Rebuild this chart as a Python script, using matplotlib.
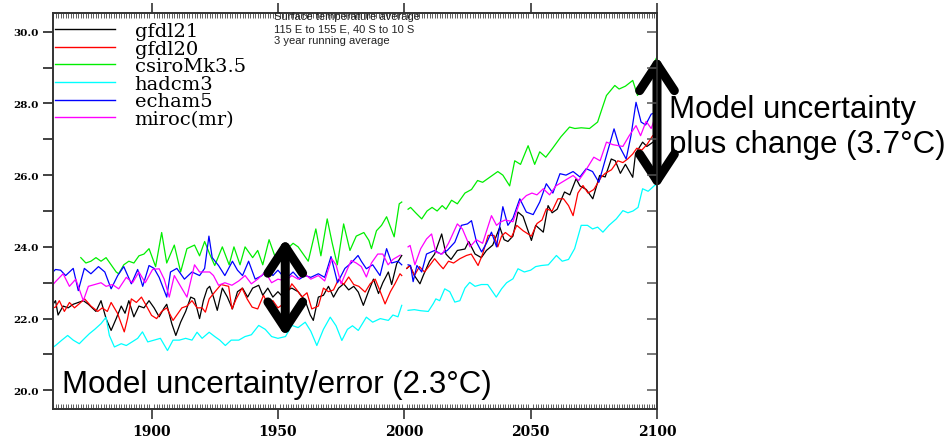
import numpy as np
import matplotlib
matplotlib.use("Agg")
import matplotlib.pyplot as plt
from matplotlib.ticker import MultipleLocator, FormatStrFormatter
from matplotlib.lines import Line2D

# ---------------- data ----------------
model_names = ["gfdl21", "gfdl20", "csiroMk3.5", "hadcm3", "echam5", "miroc(mr)"]
model_colors = ["#000000", "#ff0000", "#00ee00", "#00ffff", "#0000ff", "#ff00ff"]

gfdl21_hist_years = [1861, 1862, 1863, 1865, 1867, 1869, 1871, 1873, 1875, 1878, 1880, 1882, 1884, 1886, 1888, 1889.5,
                     1891, 1893, 1895, 1897, 1899, 1901, 1903, 1905, 1906, 1908, 1909.6, 1911.5, 1913.5, 1915.5, 1917,
                     1919, 1920.5, 1922, 1923, 1924.5, 1926, 1928, 1930, 1932, 1934, 1936, 1938, 1940, 1942.4, 1944,
                     1946, 1948, 1950, 1952, 1954, 1955.5, 1958, 1960.8, 1962.8, 1964, 1966, 1968, 1970, 1972, 1974,
                     1976, 1978, 1980, 1981.8, 1983.8, 1985.8, 1987.8, 1989.8, 1991.5, 1993.7, 1995, 1997, 1999]
gfdl21_hist = [22.4, 22.5, 22.1, 22.35, 22.3, 22.4, 22.45, 22.5, 22.4, 22.2, 22.5, 22.0, 21.67, 22.0, 22.35, 22.15,
               22.5, 22.05, 22.35, 22.3, 22.5, 22.3, 22.05, 22.3, 22.4, 21.86, 21.53, 21.9, 22.2, 22.6, 22.55,
               22.0, 22.5, 22.83, 22.9, 22.6, 22.23, 22.85, 22.6, 22.27, 22.75, 22.85, 22.6, 22.85, 22.93, 22.65,
               22.85, 22.6, 22.75, 22.6, 22.8, 22.85, 22.75, 22.5, 22.1, 21.95, 22.6, 22.65, 22.9, 22.6, 22.85,
               22.97, 22.8, 22.9, 22.74, 22.37, 22.75, 23.1, 22.7, 23.0, 23.3, 22.95, 23.53, 23.76]
gfdl21_scen_years = [2001, 2002.2, 2004, 2006.2, 2007.5, 2010, 2012, 2014.8, 2016.5, 2018.5, 2021, 2024, 2025.5, 2028,
                     2030.5, 2032.5, 2035, 2037.8, 2039.5, 2041, 2043, 2045, 2047, 2050.3, 2052, 2055, 2056.9, 2058.5,
                     2060.5, 2063.4, 2065.5, 2068, 2069.5, 2072, 2074.6, 2077.3, 2079.5, 2081.9, 2083.5, 2085.5,
                     2087.5, 2090.4, 2091.5, 2094.3, 2096, 2099, 2100]
gfdl21_scen = [23.4, 23.48, 23.2, 22.97, 23.2, 23.6, 23.8, 24.36, 23.8, 23.65, 23.9, 23.94, 24.15, 23.8,
               23.7, 23.9, 24.05, 24.55, 24.2, 24.15, 24.3, 24.97, 24.85, 24.18, 24.6, 24.41, 25.15, 24.95,
               25.05, 25.53, 25.45, 25.9, 25.7, 25.6, 25.34, 25.99, 25.95, 26.45, 26.4, 26.05,
               26.3, 25.94, 26.6, 26.92, 26.8, 26.95, 26.9]

gfdl20_hist_years = [1861, 1862, 1863.5, 1865.5, 1867.5, 1869.5, 1871.5, 1873.5, 1876, 1878.7, 1880.5, 1882.5, 1884,
                     1886.5, 1888, 1889.2, 1890.5, 1892, 1894, 1896, 1898, 1900, 1902, 1904, 1906, 1908.5, 1910.5,
                     1912, 1914, 1916, 1918, 1920, 1921.3, 1922.8, 1925, 1927.5, 1930.5, 1931.8, 1933.5, 1935.8,
                     1937.8, 1939.8, 1942, 1944.3, 1946, 1948, 1950, 1952, 1954, 1955.5, 1957.5, 1959.5, 1961.5,
                     1963.4, 1966, 1968, 1970, 1972, 1974, 1976, 1978, 1980, 1982, 1984.5, 1986.5, 1988.5, 1990.4,
                     1992.4, 1994.5, 1996.3, 1998.3, 1999]
gfdl20_hist = [22.3, 22.32, 22.5, 22.2, 22.45, 22.3, 22.42, 22.55, 22.35, 22.2, 22.3, 22.2, 22.45,
               22.15, 21.86, 21.63, 22.0, 22.55, 22.45, 22.6, 22.35, 22.09, 22.0, 22.2, 22.3, 21.95, 22.15,
               22.3, 22.35, 22.5, 22.3, 22.3, 22.18, 22.55, 22.74, 22.95, 22.9, 22.27, 22.55, 22.85,
               22.55, 22.32, 22.27, 22.65, 22.4, 22.5, 22.3, 22.4, 22.75, 22.97, 22.8, 22.6, 22.72,
               22.27, 22.35, 22.85, 22.75, 22.8, 23.1, 22.95, 23.16, 22.95, 22.9, 22.74, 22.97, 23.1, 22.77,
               22.41, 22.75, 22.97, 23.25, 23.2]
gfdl20_scen_years = [2001, 2002.2, 2004, 2006, 2008, 2010, 2012, 2014, 2015.4, 2017.5, 2019.5, 2022, 2024.6, 2026.5,
                     2029.2, 2031, 2033.2, 2035.5, 2037, 2038.5, 2040, 2042.4, 2044.5, 2047, 2050.3, 2052.5, 2054.5,
                     2056.2, 2058.5, 2060.8, 2063, 2065, 2066.8, 2068.7, 2070.7, 2072.7, 2075, 2077.9, 2079.5, 2082,
                     2084.5, 2086.5, 2088.4, 2090.4, 2092, 2094, 2096, 2098.3, 2100]
gfdl20_scen = [23.4, 23.48, 23.2, 23.45, 23.3, 23.48, 23.67, 23.5, 23.39, 23.6, 23.55, 23.67, 23.76, 23.8,
               23.48, 23.8, 24.32, 24.32, 24.0, 24.3, 24.4, 24.27, 24.6, 24.45, 24.3, 24.65, 24.75,
               25.06, 25.0, 25.34, 25.34, 25.15, 24.87, 25.5, 25.71, 25.5, 25.6, 25.94, 26.05, 26.15,
               26.4, 26.35, 26.45, 26.59, 26.75, 26.7, 26.85, 27.1, 27.15]

csiro_hist_years = [1872, 1874, 1876, 1878, 1880, 1882, 1884, 1886, 1887, 1889, 1891, 1893, 1895, 1897, 1899, 1901.6,
                    1904, 1906, 1909, 1911.5, 1914, 1917, 1919, 1921, 1923, 1925, 1928, 1930.7, 1932.6, 1935, 1937,
                    1940, 1942, 1944, 1946.5, 1949, 1951, 1953, 1956, 1958, 1960, 1962, 1965, 1967, 1969.5, 1971.5,
                    1973.5, 1976, 1978.5, 1981, 1984, 1986, 1987, 1989, 1991, 1993, 1996, 1998, 1999]
csiro_hist = [23.7, 23.55, 23.6, 23.7, 23.6, 23.7, 23.5, 23.3, 23.25, 23.5, 23.6, 23.55, 23.75, 23.8, 23.95, 23.45,
              24.4, 23.55, 24.05, 23.3, 23.95, 24.05, 23.75, 24.15, 23.8, 23.48, 24.0, 23.5, 24.0, 23.5, 24.0,
              23.7, 23.9, 23.5, 24.2, 23.7, 23.6, 23.9, 24.1, 24.0, 23.8, 23.6, 24.5, 23.75, 24.78, 24.1,
              23.5, 24.64, 23.9, 24.3, 24.4, 24.18, 23.95, 24.45, 24.6, 24.84, 24.28, 25.2, 25.25]
csiro_scen_years = [2001.5, 2002.5, 2004.5, 2006.9, 2009, 2011, 2013, 2015, 2016.5, 2018.7, 2021, 2024, 2026.6, 2029,
                    2031, 2033, 2035, 2037, 2039, 2041.7, 2043.7, 2046, 2049, 2051.6, 2053.6, 2056, 2058.7, 2062,
                    2065.4, 2067.5, 2070, 2073.3, 2076.5, 2078, 2080, 2083.3, 2085, 2087.5, 2090.4, 2092.3, 2094.5,
                    2096.5, 2098, 2100]
csiro_scen = [25.05, 25.1, 24.95, 24.78, 25.0, 25.1, 25.0, 25.15, 25.05, 25.3, 25.2, 25.5, 25.6, 25.85,
              25.8, 25.9, 26.0, 26.1, 26.0, 25.7, 26.4, 26.3, 26.82, 26.3, 26.65, 26.5, 26.75, 27.07,
              27.34, 27.3, 27.32, 27.3, 27.48, 27.8, 28.22, 28.5, 28.4, 28.48, 28.64, 28.22, 28.5,
              28.75, 29.0, 29.3]

hadcm3_hist_years = [1861, 1862, 1864.5, 1866.8, 1869, 1871.4, 1873.5, 1875.4, 1877.5, 1880, 1882, 1883.3, 1885.3,
                     1888, 1890, 1892.5, 1894.5, 1896.4, 1898.5, 1901, 1903.5, 1906.3, 1908.5, 1911, 1913.5, 1916,
                     1918, 1920, 1922.8, 1925, 1927, 1929.2, 1931.5, 1934.5, 1937, 1939.5, 1942.4, 1945, 1947.5,
                     1950, 1953, 1955.5, 1958, 1960.8, 1963, 1965.4, 1968, 1970.7, 1973, 1975.3, 1977.5, 1979.5,
                     1981.8, 1985, 1987.5, 1990.5, 1993.7, 1995.5, 1997.5, 1999]
hadcm3_hist = [21.2, 21.25, 21.4, 21.53, 21.4, 21.3, 21.45, 21.58, 21.7, 21.86, 22.04, 21.53, 21.21,
               21.3, 21.25, 21.36, 21.45, 21.63, 21.35, 21.4, 21.45, 21.11, 21.4, 21.4, 21.45, 21.4,
               21.62, 21.45, 21.62, 21.5, 21.4, 21.25, 21.4, 21.4, 21.5, 21.55, 21.81, 21.7, 21.5,
               21.45, 21.5, 21.81, 21.75, 21.9, 21.65, 21.25, 21.7, 22.04, 21.8, 21.39, 21.7, 21.8,
               21.67, 22.04, 21.9, 22.0, 21.95, 22.1, 22.05, 22.37]
hadcm3_scen_years = [2001.5, 2004, 2006.5, 2009.5, 2011.5, 2012.5, 2014, 2016, 2018, 2020, 2022, 2024, 2025.9,
                     2028, 2030.5, 2033, 2036.4, 2038.5, 2040.5, 2043, 2045, 2047.5, 2050, 2052, 2054.2, 2057,
                     2060.2, 2062.5, 2065, 2067.4, 2070, 2072.5, 2074.5, 2076.5, 2078.6, 2081, 2083.9, 2086.5,
                     2088.5, 2090.5, 2092.5, 2094.3, 2096.5, 2099, 2100]
hadcm3_scen = [22.23, 22.25, 22.22, 22.2, 22.42, 22.55, 22.5, 22.83, 22.75, 22.46, 22.5, 22.85, 23.01,
               22.9, 22.95, 22.95, 22.6, 22.83, 23.0, 23.11, 23.39, 23.3, 23.35, 23.45, 23.48, 23.5,
               23.76, 23.6, 23.65, 23.95, 24.6, 24.6, 24.5, 24.55, 24.41, 24.6, 24.78, 25.01,
               24.95, 25.0, 25.1, 25.62, 25.55, 25.71, 25.75]

echam5_hist_years = [1861, 1862, 1864, 1866, 1869, 1871, 1873.4, 1876, 1879, 1881.5, 1884, 1886.6, 1889, 1892,
                     1894.5, 1896.5, 1899, 1901, 1903, 1906, 1907.5, 1910, 1913, 1916, 1919, 1921, 1922.7, 1924,
                     1926.5, 1929, 1932, 1934, 1936, 1938.4, 1941, 1943.7, 1946, 1948, 1950, 1953, 1956, 1958.5,
                     1960.8, 1963, 1966, 1968.5, 1971, 1973.6, 1976.5, 1979, 1981.7, 1983, 1985, 1987.5, 1990.4,
                     1993, 1995, 1997.5, 1999]
echam5_hist = [23.3, 23.37, 23.35, 23.2, 23.4, 22.78, 23.4, 23.25, 23.45, 23.3, 22.83, 23.2, 23.45, 22.97,
               23.37, 22.9, 23.48, 23.4, 23.15, 22.6, 23.3, 23.4, 23.1, 23.3, 23.2, 23.4, 24.3, 23.7,
               23.48, 23.2, 23.6, 23.35, 23.2, 23.6, 23.1, 23.2, 23.4, 23.2, 23.35, 23.1, 23.3, 23.1,
               23.2, 23.15, 23.25, 23.15, 23.73, 23.0, 23.4, 23.55, 23.76, 23.6, 23.39, 23.5, 23.2,
               23.95, 23.55, 23.6, 23.5]
echam5_scen_years = [2001.5, 2002.5, 2003.5, 2005, 2006.9, 2008.8, 2012, 2014.5, 2017, 2020, 2022.6, 2025, 2026.6,
                     2028.6, 2030.6, 2032.5, 2034.5, 2036.5, 2039, 2041, 2043, 2045.7, 2048.3, 2051, 2053.6, 2056.2,
                     2058.8, 2061.6, 2064, 2066.8, 2069.5, 2072, 2074.5, 2077, 2080, 2083, 2085, 2087.8, 2089.7,
                     2091.7, 2093.7, 2095.5, 2097.7, 2100]
echam5_scen = [23.5, 23.48, 23.03, 23.48, 23.3, 23.8, 23.9, 23.8, 23.9, 24.13, 24.6, 24.64, 24.73,
               24.13, 23.86, 24.1, 24.41, 24.0, 25.12, 24.6, 24.8, 25.34, 24.97, 24.9, 25.25, 25.76,
               25.5, 26.04, 26.0, 26.1, 25.95, 26.18, 26.1, 25.8, 26.55, 27.29, 26.82, 26.45, 27.1,
               28.03, 27.48, 27.4, 27.7, 27.76]

miroc_hist_years = [1861, 1862, 1865, 1867.5, 1870, 1873, 1875, 1877.5, 1880, 1882, 1884.5, 1887, 1890, 1892.5,
                    1895, 1897.5, 1900.4, 1903, 1905, 1907, 1909, 1911.5, 1914, 1916, 1917, 1919, 1921, 1923,
                    1924.5, 1926.5, 1929, 1931.8, 1934.5, 1937, 1939.5, 1942, 1945, 1947.5, 1950, 1953, 1955.5,
                    1958, 1960.5, 1963, 1966, 1968.5, 1971.3, 1973, 1975, 1977, 1979, 1981, 1983, 1985, 1987,
                    1989.5, 1991.5, 1993.6, 1995.5, 1998.4]
miroc_hist = [22.95, 23.03, 23.25, 22.9, 23.1, 22.5, 22.9, 22.95, 23.0, 22.9, 22.95, 22.83, 23.15, 23.0,
              23.3, 23.0, 23.37, 23.39, 23.1, 22.6, 23.2, 22.9, 22.6, 23.2, 23.5, 23.3, 23.3, 23.3,
              23.2, 22.93, 23.0, 22.93, 23.05, 23.2, 22.97, 23.1, 23.3, 23.0, 23.1, 23.05, 23.2,
              23.1, 23.25, 23.1, 23.2, 23.05, 23.67, 23.5, 22.97, 23.3, 23.62, 23.55, 23.45, 23.16, 23.55,
              23.8, 23.8, 23.5, 23.65, 23.77]
miroc_scen_years = [2001.5, 2002.3, 2004.2, 2006.5, 2008.8, 2010.8, 2012.5, 2015, 2017.5, 2021, 2023, 2026, 2028.5,
                    2031, 2034.5, 2036.5, 2038, 2040, 2043, 2045.7, 2048.3, 2050.5, 2052.5, 2055, 2057.5, 2060,
                    2063.5, 2066.8, 2069, 2071.5, 2075, 2077.5, 2080, 2082.5, 2086.5, 2089, 2091.7, 2093.5, 2095.7,
                    2097.7, 2099.5]
miroc_scen = [24.0, 24.04, 23.5, 23.95, 24.22, 24.36, 23.85, 23.8, 24.1, 24.64, 24.5, 24.0, 24.2,
              24.1, 24.87, 24.6, 24.69, 24.75, 24.7, 25.25, 25.43, 25.5, 25.45, 25.62, 25.45, 25.7,
              25.85, 25.99, 25.85, 26.1, 26.5, 26.4, 26.92, 26.85, 26.8, 27.1, 27.38, 27.1, 27.5,
              27.3, 27.66]

x_ticks = [1900, 1950, 2000, 2050, 2100]
y_ticks = [20.0, 22.0, 24.0, 26.0, 28.0, 30.0]

header_lines = ["Surface temperature average", "115 E to 155 E, 40 S to 10 S", "3 year running average"]
label_error = "Model uncertainty/error (2.3\u00b0C)"
label_change = "Model uncertainty\nplus change (3.7\u00b0C)"
arrow_error = (1952.9, 21.50, 24.23)     # x, y bottom, y top
arrow_change = (2100.0, 25.62, 29.32)

# ---------------- figure ----------------
W, H = 953, 439
fig = plt.figure(figsize=(W / 100, H / 100), dpi=100)
L, R, T, B = 53, 657, 14, 410
ax = fig.add_axes([L / W, 1 - B / H, (R - L) / W, (B - T) / H])

series = [
    (gfdl21_hist_years, gfdl21_hist, gfdl21_scen_years, gfdl21_scen),
    (gfdl20_hist_years, gfdl20_hist, gfdl20_scen_years, gfdl20_scen),
    (csiro_hist_years, csiro_hist, csiro_scen_years, csiro_scen),
    (hadcm3_hist_years, hadcm3_hist, hadcm3_scen_years, hadcm3_scen),
    (echam5_hist_years, echam5_hist, echam5_scen_years, echam5_scen),
    (miroc_hist_years, miroc_hist, miroc_scen_years, miroc_scen),
]
for (hy, hv, sy, sv), name, col in zip(series, model_names, model_colors):
    yrs = list(hy) + [2000.0] + list(sy)
    vals = list(hv) + [np.nan] + list(sv)
    ax.plot(yrs, vals, color=col, lw=0.9, label=name)

ax.set_xlim(1861, 2100)
ax.set_ylim(19.48, 30.52)
ax.set_xticks(x_ticks)
ax.set_yticks(y_ticks)
ax.xaxis.set_minor_locator(MultipleLocator(1))
ax.yaxis.set_minor_locator(MultipleLocator(1))
ax.yaxis.set_major_formatter(FormatStrFormatter("%.1f"))

ax.tick_params(axis="x", which="major", direction="out", length=7, width=1.1,
               top=True, bottom=True, labelsize=10, pad=4, colors="#222222")
ax.tick_params(axis="x", which="minor", direction="in", length=3.5, width=0.6,
               top=True, bottom=True, colors="#444444")
ax.tick_params(axis="y", which="both", direction="out", length=7.5, width=1.3,
               left=True, right=False, labelsize=7.5, pad=3, colors="#333333")
for lab in ax.get_xticklabels() + ax.get_yticklabels():
    lab.set_fontfamily("DejaVu Serif")
    lab.set_fontweight("bold")
    lab.set_color("black")

twin = ax.twinx()
twin.set_ylim(ax.get_ylim())
twin.set_yticks(y_ticks)
twin.yaxis.set_minor_locator(MultipleLocator(1))
twin.tick_params(axis="y", which="both", direction="in", length=7.5, width=1.1,
                 labelright=False, colors="#555555")
for sp in list(ax.spines.values()) + list(twin.spines.values()):
    sp.set_linewidth(1.2)
    sp.set_color("#333333")

handles = [Line2D([], [], color=c, lw=1.0) for c in model_colors]
leg = ax.legend(handles, model_names, loc="upper left",
                bbox_to_anchor=(2 / (R - L), 1 - (23 - T) / (B - T)),
                frameon=False, borderpad=0, borderaxespad=0,
                prop={"family": "DejaVu Serif", "size": 14},
                handlelength=3.1, handletextpad=1.0, labelspacing=-0.02)

# header text
for i, line in enumerate(header_lines):
    fig.text(274 / W, 1 - (17 + 12 * i) / H, line, fontsize=8, family="Liberation Sans",
             ha="left", va="center", color="#222222")

# big annotation texts
fig.text(62 / W, 1 - 393 / H, label_error, fontsize=22.5, family="Liberation Sans",
         ha="left", va="baseline", color="black")
fig.text(669 / W, 1 - 153 / H, label_change, fontsize=22.5, family="Liberation Sans",
         ha="left", va="baseline", color="black", linespacing=1.22)

# arrows
for (ax_x, yb, yt) in (arrow_error, arrow_change):
    ax.annotate("", xy=(ax_x, yb), xytext=(ax_x, yt), annotation_clip=False,
                arrowprops=dict(arrowstyle="<->,head_length=1.9,head_width=1.25",
                                lw=6.5, color="black", shrinkA=0, shrinkB=0,
                                mutation_scale=10), zorder=10)

fig.savefig("out.png", dpi=100)
